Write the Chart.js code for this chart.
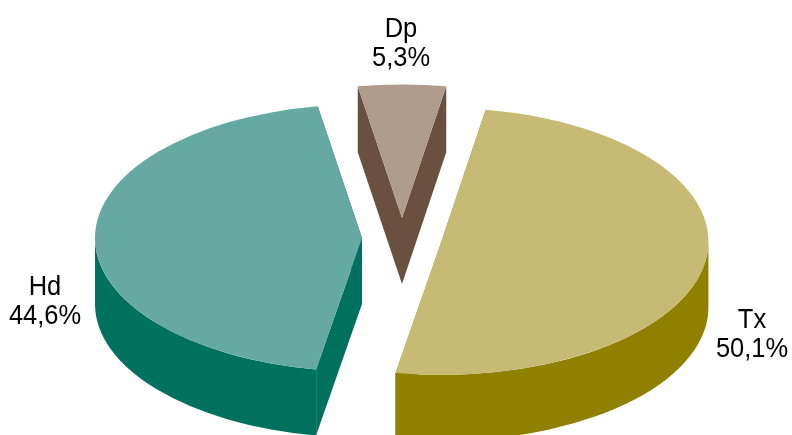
<!DOCTYPE html>
<html>
<head>
<meta charset="utf-8">
<style>
html,body{margin:0;padding:0;background:#fff}
#wrap{width:792px;height:435px;position:relative;overflow:hidden}
</style>
<script src="https://cdn.jsdelivr.net/npm/chart.js@4/dist/chart.umd.min.js"></script>
</head>
<body>
<div id="wrap"><canvas id="c" width="792" height="435"></canvas></div>
<script>
const categories = ["Dp", "Tx", "Hd"];
const shareValues = [5.3, 50.1, 44.6];
const shareLabels = ["5,3%", "50,1%", "44,6%"];
const topColors = ["#b09c8d", "#c6ba74", "#65a9a2"];
const sideColors = ["#6b5040", "#908000", "#00705f"];

const TILT = 0.5, DEPTH = 66, CX = 402, CY = 238, RADIUS = 267, EXPLODE = 40;
const labelAnchors = [[401, 37], [752, 328], [45, 295]];
const TEXT_SQUEEZE = 0.91;

const extrude = {
  id: "extrude",
  beforeDatasetDraw(chart, args) {
    const ctx = chart.ctx;
    const arcs = chart.getDatasetMeta(args.index).data;
    const drop = DEPTH / TILT;
    ctx.save();
    ctx.translate(CX - arcs[0].x, CY - arcs[0].y * TILT);
    ctx.scale(1, TILT);
    arcs.forEach((a, i) => {
      const mid = (a.startAngle + a.endAngle) / 2;
      const x = a.x + Math.cos(mid) * EXPLODE, y = a.y + Math.sin(mid) * EXPLODE;
      const r = a.outerRadius;
      ctx.fillStyle = sideColors[i];
      const lo = Math.max(a.startAngle, 0), hi = Math.min(a.endAngle, Math.PI);
      if (hi > lo) {
        ctx.beginPath();
        ctx.arc(x, y, r, lo, hi);
        ctx.arc(x, y + drop, r, hi, lo, true);
        ctx.closePath();
        ctx.fill();
      }
      [a.startAngle, a.endAngle].forEach(t => {
        const ex = x + Math.cos(t) * r, ey = y + Math.sin(t) * r;
        ctx.beginPath();
        ctx.moveTo(x, y);
        ctx.lineTo(ex, ey);
        ctx.lineTo(ex, ey + drop);
        ctx.lineTo(x, y + drop);
        ctx.closePath();
        ctx.fill();
      });
    });
    arcs.forEach(a => {
      const mid = (a.startAngle + a.endAngle) / 2;
      ctx.save();
      ctx.translate(Math.cos(mid) * EXPLODE, Math.sin(mid) * EXPLODE);
      a.draw(ctx);
      ctx.restore();
    });
    ctx.restore();
    return false;
  },
  afterDraw(chart) {
    const ctx = chart.ctx;
    ctx.save();
    ctx.fillStyle = "#000";
    ctx.textAlign = "center";
    ctx.textBaseline = "alphabetic";
    ctx.font = '28px "Liberation Sans", sans-serif';
    categories.forEach((name, i) => {
      const [x, y] = labelAnchors[i];
      ctx.save();
      ctx.translate(x, y);
      ctx.scale(TEXT_SQUEEZE, 1);
      ctx.fillText(name, 0, 0);
      ctx.fillText(shareLabels[i], 0, 29);
      ctx.restore();
    });
    ctx.restore();
  }
};

new Chart(document.getElementById("c"), {
  type: "pie",
  data: {
    labels: categories,
    datasets: [{
      data: shareValues,
      backgroundColor: topColors,
      hoverBackgroundColor: topColors,
      borderWidth: 0,
      clip: false
    }]
  },
  options: {
    responsive: false,
    animation: false,
    rotation: -9.54,
    radius: RADIUS,
    layout: { padding: 0 },
    plugins: { legend: { display: false }, tooltip: { enabled: false } }
  },
  plugins: [extrude]
});
</script>
</body>
</html>
